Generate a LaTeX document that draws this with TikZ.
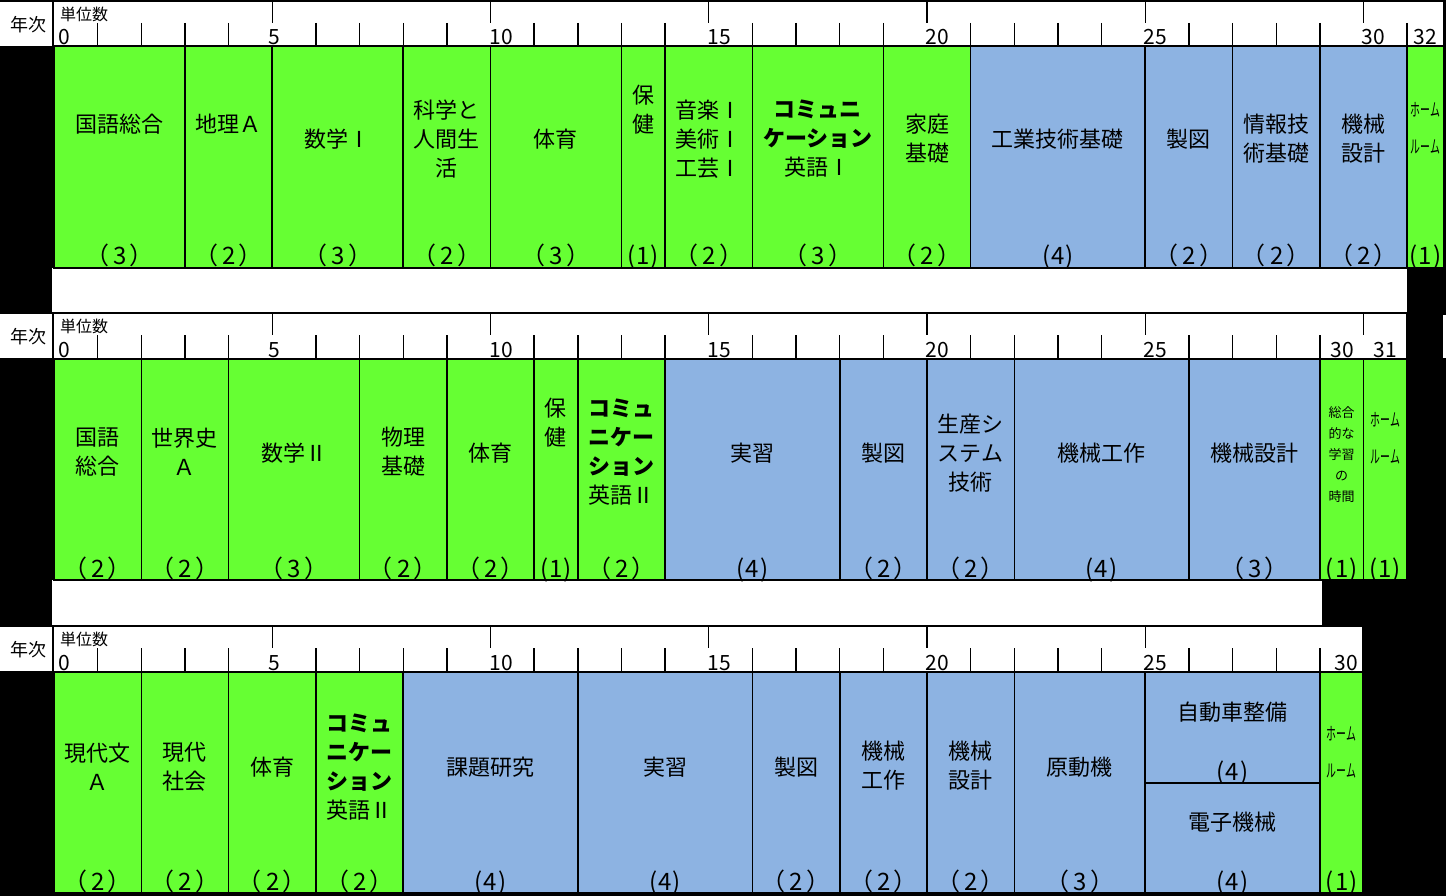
\documentclass[tikz,border=0pt]{standalone}
\usepackage{fontspec}
\usepackage{graphicx}
\setmainfont{Noto Sans CJK JP}
\newfontfamily\cntfont[RawFeature=+palt]{Noto Sans CJK JP}
\definecolor{subjgreen}{RGB}{102,255,51}
\definecolor{subjblue}{RGB}{141,179,226}
\newcommand\ux[1]{54+43.65*(#1)}
\newcommand\fw[1]{（\kern5pt#1\kern4pt）}
\newcommand\hw[1]{(\kern1pt#1\kern1pt)}
% name, from, to, top, bottom, fill, label y, label, count
\newcommand\subj[9]{%
  \filldraw[fill=#6, div] ({\ux{#2}},#4) rectangle ({\ux{#3}},#5);
  \node[lab] (#1-name) at ({\ux{(#2+#3)/2}},#7) {#8};
  \node[cnt] (#1-cnt) at ({\ux{(#2+#3)/2}},{#5-3}) {#9};
}
% ytop, xend, last tick unit, prefix
\newcommand\hdr[4]{%
  \fill[white] (0,#1) rectangle (#2,{#1+46});
  \foreach \u in {1,...,#3} {%
    \pgfmathtruncatemacro\m{mod(\u,5)}%
    \ifnum\m=0 \draw[tick] ({\ux{\u}},#1) -- ++(0,22);%
    \else \draw[tick] ({\ux{\u}},{#1+22}) -- ++(0,24);\fi
  }
  \draw[div] (53,#1) -- ++(0,46);
  \draw[frame] (0,#1) -- (#2,#1);
  \draw[frame] (0,{#1+46}) -- (#2,{#1+46});
  \draw[frame] (#2,#1) -- ++(0,46);
  \node[yr] (#4-yr) at (28,{#1+24}) {年次};
  \node[unitlbl] (#4-ul) at (84,{#1+13}) {単位数};
  \node[num] (#4-n0) at (64,{#1+44}) {0};
  \node[num] (#4-n5) at (274,{#1+44}) {5};
  \node[num] (#4-n10) at (501,{#1+44}) {10};
  \node[num] (#4-n15) at (719,{#1+44}) {15};
  \node[num] (#4-n20) at (937,{#1+44}) {20};
  \node[num] (#4-n25) at (1155,{#1+44}) {25};
}
\newcommand\hrtext{\scalebox{0.55}[1]{ホーム}\\[17pt]\scalebox{0.55}[1]{ルーム}}
\begin{document}
\begin{tikzpicture}[x=1pt,y=-1pt,
  lab/.style={align=center, font=\fontsize{22}{29}\selectfont, inner sep=0pt},
  small/.style={align=center, font=\fontsize{13}{21}\selectfont, inner sep=0pt},
  hr/.style={align=center, font=\fontsize{18}{20}\selectfont, inner sep=0pt},
  cnt/.style={font=\cntfont\fontsize{24}{24}\selectfont, inner sep=0pt, anchor=base},
  num/.style={font=\fontsize{21}{21}\selectfont, anchor=base, inner sep=0pt},
  yr/.style={font=\fontsize{18}{18}\selectfont, inner sep=0pt},
  unitlbl/.style={font=\fontsize{16}{16}\selectfont, inner sep=0pt},
  tick/.style={line width=1.4pt},
  div/.style={line width=1.6pt},
  frame/.style={line width=2.4pt}]
\useasboundingbox (0,0) rectangle (1446,896);
\fill[black] (0,0) rectangle (1446,896);
% white strips between rows
\fill[white] (52,268) rectangle (1407,313);
\fill[white] (52,580) rectangle (1322,626);
\fill[white] (1443,315) rectangle (1446,358);
% ---------- headers ----------
\hdr{1}{1444}{31}{h1}
\node[num] (h1-n30) at (1373,45) {30};
\node[num] (h1-n32) at (1425,45) {32};
\hdr{313}{1407}{30}{h2}
\node[num] (h2-n30) at (1342,357) {30};
\node[num] (h2-n31) at (1385,357) {31};
\hdr{626}{1363}{29}{h3}
\node[num] (h3-n30) at (1346,670) {30};
% ---------- row 1 ----------
\subj{ra}{0}{3}{46}{268}{subjgreen}{124}{国語総合}{\fw{3}}
\subj{rb}{3}{5}{46}{268}{subjgreen}{124}{地理Ａ}{\fw{2}}
\subj{rc}{5}{8}{46}{268}{subjgreen}{139}{数学Ⅰ}{\fw{3}}
\subj{rd}{8}{10}{46}{268}{subjgreen}{139}{科学と\\人間生\\活}{\fw{2}}
\subj{re}{10}{13}{46}{268}{subjgreen}{139}{体育}{\fw{3}}
\subj{rf}{13}{14}{46}{268}{subjgreen}{110}{保\\健}{\hw{1}}
\subj{rg}{14}{16}{46}{268}{subjgreen}{139}{音楽Ⅰ\\美術Ⅰ\\工芸Ⅰ}{\fw{2}}
\subj{rh}{16}{19}{46}{268}{subjgreen}{139}{\textbf{コミュニ}\\\textbf{ケーション}\\英語Ⅰ}{\fw{3}}
\subj{ri}{19}{21}{46}{268}{subjgreen}{139}{家庭\\基礎}{\fw{2}}
\subj{rj}{21}{25}{46}{268}{subjblue}{139}{工業技術基礎}{\hw{4}}
\subj{rk}{25}{27}{46}{268}{subjblue}{139}{製図}{\fw{2}}
\subj{rl}{27}{29}{46}{268}{subjblue}{139}{情報技\\術基礎}{\fw{2}}
\subj{rm}{29}{31}{46}{268}{subjblue}{139}{機械\\設計}{\fw{2}}
\subj{rn}{31}{31.845}{46}{268}{subjgreen}{128}{}{\hw{1}}
\node[hr] (rn-hr) at ({\ux{31.42}},128) {\hrtext};
\draw[frame] ({\ux{0}},46) rectangle (1444,268);
% ---------- row 2 ----------
\subj{sa}{0}{2}{359}{580}{subjgreen}{452}{国語\\総合}{\fw{2}}
\subj{sb}{2}{4}{359}{580}{subjgreen}{452}{世界史\\Ａ}{\fw{2}}
\subj{sc}{4}{7}{359}{580}{subjgreen}{453}{数学Ⅱ}{\fw{3}}
\subj{sd}{7}{9}{359}{580}{subjgreen}{452}{物理\\基礎}{\fw{2}}
\subj{se}{9}{11}{359}{580}{subjgreen}{453}{体育}{\fw{2}}
\subj{sf}{11}{12}{359}{580}{subjgreen}{423}{保\\健}{\hw{1}}
\subj{sg}{12}{14}{359}{580}{subjgreen}{452}{\textbf{コミュ}\\\textbf{ニケー}\\\textbf{ション}\\英語Ⅱ}{\fw{2}}
\subj{sh}{14}{18}{359}{580}{subjblue}{453}{実習}{\hw{4}}
\subj{si}{18}{20}{359}{580}{subjblue}{453}{製図}{\fw{2}}
\subj{sj}{20}{22}{359}{580}{subjblue}{453}{生産シ\\ステム\\技術}{\fw{2}}
\subj{sk}{22}{26}{359}{580}{subjblue}{453}{機械工作}{\hw{4}}
\subj{sl}{26}{29}{359}{580}{subjblue}{453}{機械設計}{\fw{3}}
\subj{sm}{29}{30}{359}{580}{subjgreen}{455}{}{\hw{1}}
\node[small] (sm-txt) at ({\ux{29.5}},455) {総合\\的な\\学習\\の\\時間};
\subj{sn}{30}{31}{359}{580}{subjgreen}{438}{}{\hw{1}}
\node[hr] (sn-hr) at ({\ux{30.5}},438) {\hrtext};
\draw[frame] ({\ux{0}},359) rectangle ({\ux{31}},580);
% ---------- row 3 ----------
\subj{ta}{0}{2}{672}{893}{subjgreen}{767}{現代文\\Ａ}{\fw{2}}
\subj{tb}{2}{4}{672}{893}{subjgreen}{767}{現代\\社会}{\fw{2}}
\subj{tc}{4}{6}{672}{893}{subjgreen}{767}{体育}{\fw{2}}
\subj{td}{6}{8}{672}{893}{subjgreen}{767}{\textbf{コミュ}\\\textbf{ニケー}\\\textbf{ション}\\英語Ⅱ}{\fw{2}}
\subj{te}{8}{12}{672}{893}{subjblue}{767}{課題研究}{\hw{4}}
\subj{tf}{12}{16}{672}{893}{subjblue}{767}{実習}{\hw{4}}
\subj{tg}{16}{18}{672}{893}{subjblue}{767}{製図}{\fw{2}}
\subj{th}{18}{20}{672}{893}{subjblue}{766}{機械\\工作}{\fw{2}}
\subj{ti}{20}{22}{672}{893}{subjblue}{766}{機械\\設計}{\fw{2}}
\subj{tj}{22}{25}{672}{893}{subjblue}{767}{原動機}{\fw{3}}
\subj{tk}{25}{29}{672}{783}{subjblue}{712}{自動車整備}{\hw{4}}
\subj{tm}{25}{29}{783}{893}{subjblue}{822}{電子機械}{\hw{4}}
\subj{tn}{29}{30}{672}{893}{subjgreen}{752}{}{\hw{1}}
\node[hr] (tn-hr) at ({\ux{29.5}},752) {\hrtext};
\draw[frame] ({\ux{0}},672) rectangle ({\ux{30}},893);
\end{tikzpicture}
\end{document}
